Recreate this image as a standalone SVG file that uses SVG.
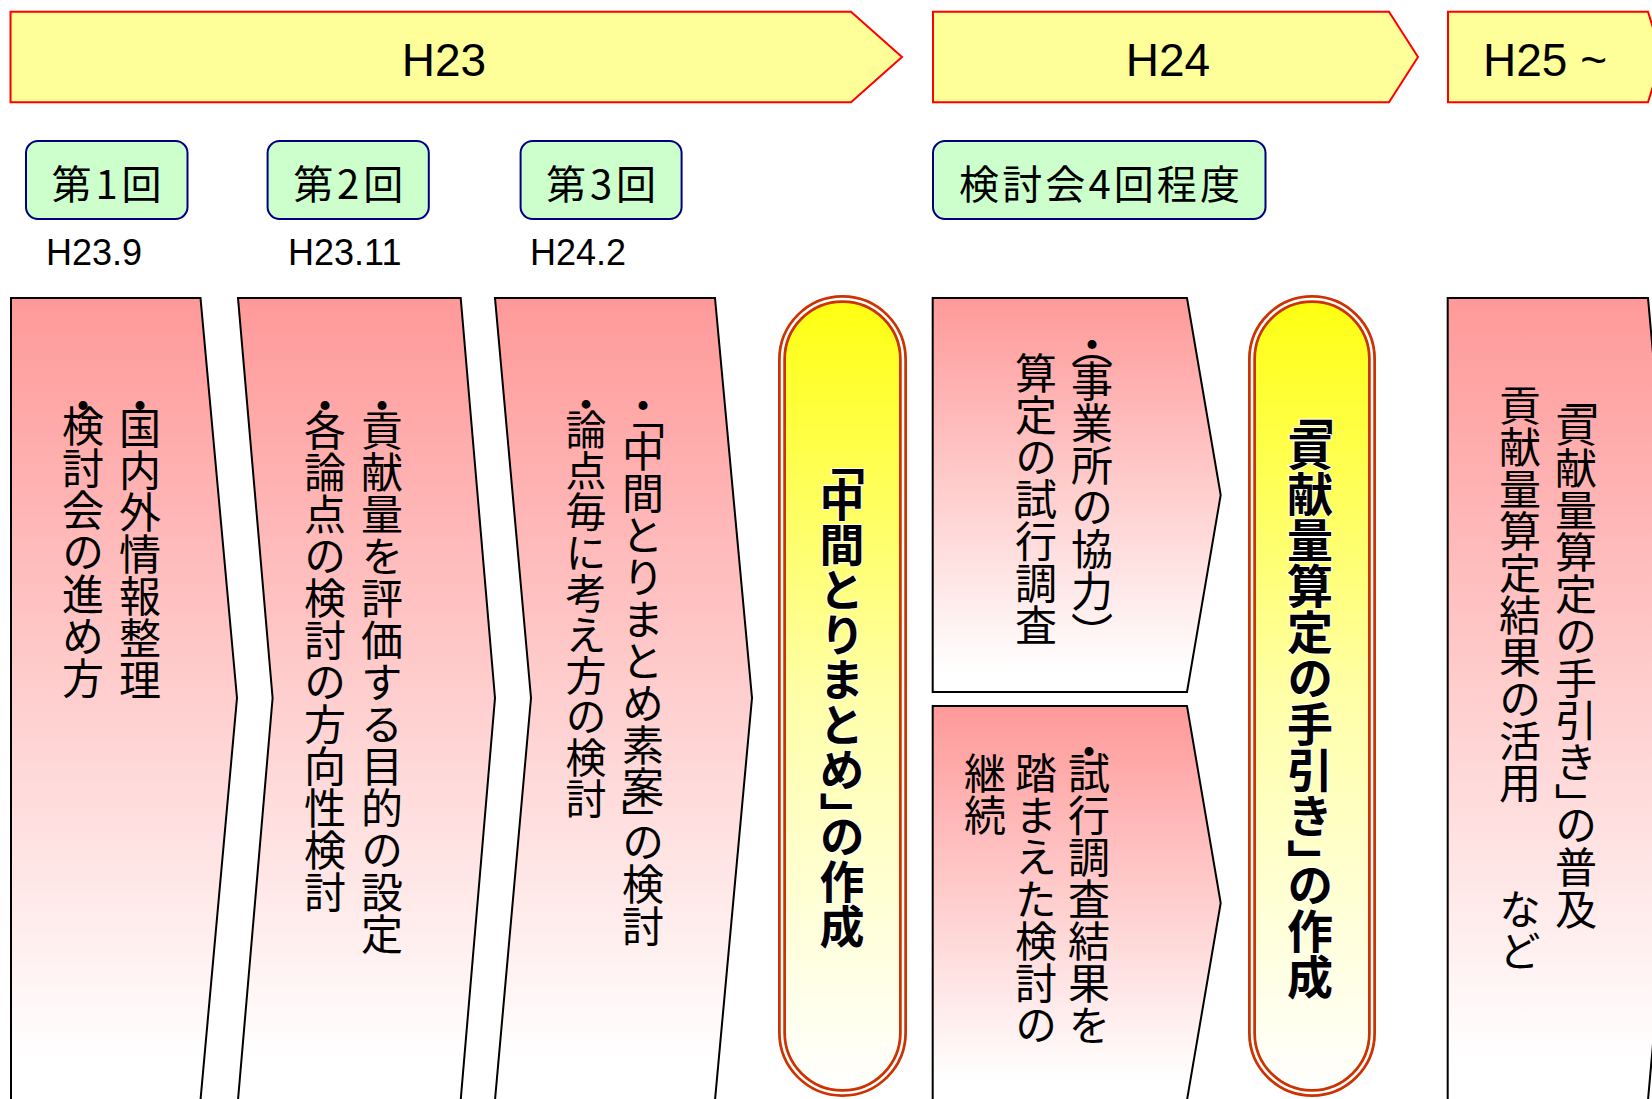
<svg xmlns="http://www.w3.org/2000/svg" width="1652" height="1099" viewBox="0 0 1652 1099">
<defs>
<linearGradient id="pink" x1="0" y1="0" x2="0" y2="1">
<stop offset="0" stop-color="#FF9999"/>
<stop offset="0.95" stop-color="#FFFFFF"/>
</linearGradient>
<linearGradient id="yel" x1="0" y1="0" x2="0" y2="1">
<stop offset="0" stop-color="#FFFF11"/>
<stop offset="0.5" stop-color="#FFFFA8"/>
<stop offset="1" stop-color="#FFFFFF"/>
</linearGradient>
</defs>
<style>
.banner{fill:#FFFF99;stroke:#FF0000;stroke-width:2}
.btxt{font-family:"Liberation Sans",Arial,sans-serif;font-size:46px;fill:#000;text-anchor:middle}
.meet{fill:#CCFFCC;stroke:#000080;stroke-width:2}
.mtxt{font-family:"Noto Sans CJK JP",sans-serif;font-size:40px;fill:#000;text-anchor:middle;dominant-baseline:central}
.date{font-family:"Liberation Sans",Arial,sans-serif;font-size:36px;fill:#000}
.box{fill:url(#pink);stroke:#000;stroke-width:2}
.v{font-family:"Noto Sans CJK JP",sans-serif;font-size:42px;fill:#000;writing-mode:vertical-rl}
.pillfill{fill:url(#yel)}
.pillout{fill:none;stroke:#CC3300;stroke-width:8}
.pillin{fill:none;stroke:#FFFFFF;stroke-width:2.5}
.vb{font-family:"Noto Sans CJK JP",sans-serif;font-weight:bold;fill:#000;writing-mode:vertical-rl;stroke:#FFFFFF;stroke-width:2;paint-order:stroke}
</style>
<rect width="1652" height="1099" fill="#FFFFFF"/>

<g id="banner-h23">
<path class="banner" d="M10.5,11.7 H851 L902,57 L851,102.3 H10.5 Z"/>
<text class="btxt" x="444" y="76">H23</text>
</g>
<g id="banner-h24">
<path class="banner" d="M933,11.7 H1389 L1418,57 L1389,102.3 H933 Z"/>
<text class="btxt" x="1168" y="76">H24</text>
</g>
<g id="banner-h25">
<path class="banner" d="M1448,11.7 H1648 L1662,57 L1648,102.3 H1448 Z"/>
<text class="btxt" x="1545" y="76">H25 ~</text>
</g>

<g id="meeting-1">
<rect class="meet" x="26" y="141" width="161.5" height="78" rx="12"/>
<text class="mtxt" x="106.5" y="182" textLength="110" lengthAdjust="spacing">第1回</text>
<text class="date" x="46" y="265">H23.9</text>
</g>
<g id="meeting-2">
<rect class="meet" x="267.6" y="141" width="161.2" height="78" rx="12"/>
<text class="mtxt" x="348.2" y="182" textLength="110" lengthAdjust="spacing">第2回</text>
<text class="date" x="288" y="265">H23.11</text>
</g>
<g id="meeting-3">
<rect class="meet" x="520.6" y="141" width="161" height="78" rx="12"/>
<text class="mtxt" x="601" y="182" textLength="110" lengthAdjust="spacing">第3回</text>
<text class="date" x="530" y="265">H24.2</text>
</g>
<g id="meeting-h24">
<rect class="meet" x="933" y="141" width="332.5" height="78" rx="12"/>
<text class="mtxt" x="1099.5" y="182" textLength="281" lengthAdjust="spacing">検討会4回程度</text>
</g>

<g id="step-1">
<path class="box" d="M11,298 H200.5 L237,698 L200.5,1100 H11 Z"/>
<text class="v" x="140" y="384">・<tspan y="407">国内外情報整理</tspan></text>
<text class="v" x="83" y="384">・<tspan y="405">検討会の進め方</tspan></text>
</g>
<g id="step-2">
<path class="box" d="M238,298 H460.7 L495,698 L460.7,1100 H238 L272.6,698 Z"/>
<text class="v" x="382" y="384">・<tspan y="409">貢献量を評価する目的の設定</tspan></text>
<text class="v" x="325" y="384">・<tspan y="409">各論点の検討の方向性検討</tspan></text>
</g>
<g id="step-3">
<path class="box" d="M495,298 H715 L752,698 L715,1100 H495 L531,698 Z"/>
<text class="v" x="643" y="384">・<tspan y="397">「</tspan><tspan y="430">中間とりまとめ素案</tspan><tspan y="799">」</tspan><tspan y="821">の検討</tspan></text>
<text class="v" x="586" y="384" style="font-size:41px">・<tspan y="409">論点毎に考え方の検討</tspan></text>
</g>

<g id="interim-summary">
<rect class="pillfill" x="782" y="299" width="121" height="794" rx="60.5"/>
<rect class="pillout" x="782" y="299" width="121" height="794" rx="60.5"/>
<rect class="pillin" x="782" y="299" width="121" height="794" rx="60.5"/>
<text class="vb" x="842" y="440" style="font-size:45px"><tspan y="440">「</tspan><tspan y="477">中間とりまとめ</tspan><tspan y="792">」</tspan><tspan y="814">の作成</tspan></text>
</g>

<g id="trial-survey">
<path class="box" d="M932.7,298 H1187 L1220.7,495 L1187,692 H932.7 Z"/>
<text class="v" x="1092" y="323">・<tspan y="326">（</tspan><tspan y="360">事業所の協力</tspan><tspan y="612">）</tspan></text>
<text class="v" x="1036" y="352">算定の試行調査</text>
</g>
<g id="continued-study">
<path class="box" d="M932.7,706 H1187 L1220.7,903 L1187,1100 H932.7 Z"/>
<text class="v" x="1089" y="730">・<tspan y="752">試行調査結果を</tspan></text>
<text class="v" x="1036" y="752">踏まえた検討の</text>
<text class="v" x="985" y="752">継続</text>
</g>

<g id="guide-creation">
<rect class="pillfill" x="1252" y="299" width="120" height="794" rx="60"/>
<rect class="pillout" x="1252" y="299" width="120" height="794" rx="60"/>
<rect class="pillin" x="1252" y="299" width="120" height="794" rx="60"/>
<text class="vb" x="1310" y="390" style="font-size:46px"><tspan y="390">「</tspan><tspan y="425">貢献量算定の手引き</tspan><tspan y="839">」</tspan><tspan y="862">の作成</tspan></text>
</g>

<g id="step-h25">
<path class="box" d="M1447.7,298 H1648 L1684,698 L1648,1100 H1447.7 Z"/>
<text class="v" x="1576" y="377"><tspan y="377">「</tspan><tspan y="405">貢献量算定の手引き</tspan><tspan y="783">」</tspan><tspan y="804">の普及</tspan></text>
<text class="v" x="1520" y="384">貢献量算定結果の活用　　など</text>
</g>

<g id="connectors"/>
</svg>
